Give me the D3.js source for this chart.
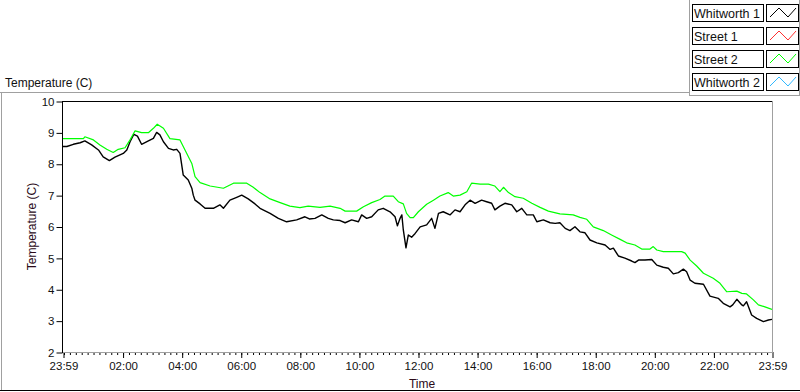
<!DOCTYPE html>
<html>
<head>
<meta charset="utf-8">
<script src="https://cdn.jsdelivr.net/npm/d3@7"></script>
<style>
  html, body { margin: 0; padding: 0; background: #fff; }
  text { font-family: "Liberation Sans", Arial, sans-serif; }
</style>
</head>
<body>
<div id="plot-area"></div>
<script>
// Temperature log over one day, four sensors (only two recorded)

// x values are hours elapsed since the 23:59 start, y values are degrees C
const whitworth1 = [
  [0.00, 8.55], [0.13, 8.55], [0.35, 8.62], [0.58, 8.67], [0.74, 8.73], [0.97, 8.60],
  [1.20, 8.44], [1.36, 8.22], [1.57, 8.10], [1.76, 8.21], [2.04, 8.33], [2.16, 8.44],
  [2.27, 8.70], [2.40, 8.94], [2.52, 8.88], [2.66, 8.62], [2.89, 8.73], [3.06, 8.81],
  [3.17, 9.00], [3.28, 8.92], [3.40, 8.70], [3.57, 8.49], [3.73, 8.44], [3.85, 8.46],
  [3.96, 8.33], [4.07, 7.64], [4.24, 7.48], [4.36, 7.22], [4.41, 7.00], [4.47, 6.84],
  [4.64, 6.72], [4.81, 6.58], [5.09, 6.58], [5.31, 6.69], [5.43, 6.58], [5.65, 6.84],
  [5.88, 6.93], [6.05, 7.00], [6.27, 6.88], [6.50, 6.72], [6.67, 6.58], [7.01, 6.42],
  [7.29, 6.26], [7.57, 6.15], [7.91, 6.21], [8.19, 6.31], [8.34, 6.24], [8.53, 6.26],
  [8.76, 6.37], [8.98, 6.26], [9.15, 6.21], [9.38, 6.19], [9.55, 6.12], [9.77, 6.21],
  [10.00, 6.15], [10.11, 6.37], [10.28, 6.26], [10.45, 6.31], [10.67, 6.53], [10.84, 6.58],
  [11.07, 6.47], [11.24, 6.31], [11.32, 6.02], [11.41, 6.26], [11.47, 6.37], [11.52, 5.89],
  [11.61, 5.32], [11.69, 5.73], [11.80, 5.66], [11.92, 5.78], [12.09, 5.99], [12.31, 6.05],
  [12.48, 6.26], [12.59, 5.94], [12.71, 6.42], [12.87, 6.47], [13.10, 6.37], [13.27, 6.53],
  [13.44, 6.47], [13.61, 6.69], [13.78, 6.84], [13.95, 6.74], [14.17, 6.84], [14.34, 6.79],
  [14.51, 6.74], [14.62, 6.53], [14.79, 6.65], [14.96, 6.74], [15.19, 6.69], [15.36, 6.47],
  [15.53, 6.58], [15.70, 6.37], [15.92, 6.37], [16.04, 6.15], [16.26, 6.21], [16.49, 6.12],
  [16.66, 6.10], [16.82, 6.12], [17.00, 5.94], [17.16, 5.87], [17.33, 5.99], [17.50, 5.83],
  [17.67, 5.80], [17.84, 5.57], [18.07, 5.48], [18.35, 5.41], [18.52, 5.27], [18.63, 5.31],
  [18.80, 5.06], [19.02, 4.99], [19.25, 4.90], [19.36, 4.85], [19.48, 4.93], [19.70, 4.93],
  [19.93, 4.95], [20.10, 4.77], [20.32, 4.70], [20.49, 4.67], [20.66, 4.49], [20.83, 4.53],
  [21.00, 4.64], [21.11, 4.56], [21.23, 4.29], [21.39, 4.19], [21.68, 4.16], [21.90, 3.78],
  [22.18, 3.71], [22.35, 3.55], [22.58, 3.44], [22.67, 3.50], [22.81, 3.68], [22.98, 3.50],
  [23.03, 3.47], [23.14, 3.60], [23.31, 3.18], [23.48, 3.07], [23.71, 2.97], [23.88, 3.02],
  [24.00, 3.04]
];

const street1 = [];

const street2 = [
  [0.00, 8.80], [0.69, 8.80], [0.74, 8.86], [1.03, 8.76], [1.25, 8.60], [1.48, 8.46],
  [1.70, 8.36], [1.87, 8.46], [2.10, 8.51], [2.27, 8.76], [2.44, 9.05], [2.66, 8.99],
  [2.89, 8.99], [3.06, 9.13], [3.19, 9.26], [3.40, 9.13], [3.62, 8.80], [3.96, 8.76],
  [4.13, 8.44], [4.36, 8.01], [4.47, 7.59], [4.64, 7.40], [4.98, 7.29], [5.43, 7.22],
  [5.77, 7.38], [6.22, 7.38], [6.44, 7.25], [6.67, 7.08], [7.01, 6.88], [7.35, 6.76],
  [7.68, 6.65], [8.02, 6.60], [8.30, 6.65], [8.70, 6.61], [9.04, 6.65], [9.38, 6.58],
  [9.55, 6.49], [9.94, 6.49], [10.17, 6.63], [10.45, 6.76], [10.73, 6.86], [10.90, 6.97],
  [11.18, 6.97], [11.35, 6.79], [11.52, 6.72], [11.63, 6.42], [11.75, 6.28], [11.86, 6.28],
  [12.03, 6.47], [12.31, 6.71], [12.54, 6.84], [12.76, 6.97], [13.04, 7.08], [13.21, 6.97],
  [13.44, 7.00], [13.67, 7.11], [13.83, 7.38], [14.12, 7.35], [14.40, 7.35], [14.62, 7.29],
  [14.79, 7.11], [14.91, 7.25], [15.08, 7.08], [15.30, 6.95], [15.58, 6.90], [15.87, 6.74],
  [16.15, 6.61], [16.43, 6.49], [16.82, 6.40], [17.27, 6.37], [17.50, 6.29], [17.73, 6.23],
  [17.95, 5.99], [18.29, 5.87], [18.57, 5.73], [18.86, 5.59], [19.08, 5.48], [19.36, 5.41],
  [19.59, 5.28], [19.87, 5.28], [19.98, 5.36], [20.10, 5.25], [20.32, 5.20], [20.94, 5.20],
  [21.06, 5.15], [21.23, 4.93], [21.45, 4.74], [21.68, 4.51], [22.01, 4.35], [22.24, 4.19],
  [22.47, 3.92], [22.81, 3.94], [22.98, 3.87], [23.14, 3.85], [23.37, 3.66], [23.54, 3.50],
  [23.76, 3.44], [24.00, 3.36]
];

const whitworth2 = [];

const seriesNames = ["Whitworth 1", "Street 1", "Street 2", "Whitworth 2"];
const seriesColors = ["#000000", "#ff3030", "#00ff00", "#30b8ff"];
const seriesData = [whitworth1, street1, street2, whitworth2];

const xTickLabels = ["23:59", "02:00", "04:00", "06:00", "08:00", "10:00", "12:00",
  "14:00", "16:00", "18:00", "20:00", "22:00", "23:59"];
const yTickValues = [2, 3, 4, 5, 6, 7, 8, 9, 10];

// Set up svg
const svg = d3.select("#plot-area").
append("svg").
attr("width", 800).
attr("height", 392);

const pL = 63, pR = 772, pT = 101, pB = 352; // plot box edges

// Scales
const start = new Date(2000, 0, 1, 23, 59);
const end = d3.timeHour.offset(start, 24);
const toDate = h => new Date(+start + h * 3600000);

const xScale = d3.scaleTime().domain([start, end]).range([pL, pR]);
const yScale = d3.scaleLinear().domain([2, 10]).range([pB, pT]);

// tick label -> date (first label is the start, the rest are the next day)
const majorDates = xTickLabels.map((s, i) => {
  if (i === 0) return start;
  if (i === xTickLabels.length - 1) return end;
  const [hh, mm] = s.split(":").map(Number);
  return new Date(2000, 0, 2, hh, mm);
});
const minorDates = d3.timeMinute.every(12).range(d3.timeMinute.offset(start, 1), end);

// Outer panel frame
const gray = "#a0a0a0";
svg.append("line").attr("x1", 0).attr("x2", 689).attr("y1", 92.5).attr("y2", 92.5).attr("stroke", gray);
svg.append("line").attr("x1", 1.5).attr("x2", 1.5).attr("y1", 92).attr("y2", 391).attr("stroke", gray);
svg.append("line").attr("x1", 0).attr("x2", 800).attr("y1", 390.5).attr("y2", 390.5).attr("stroke", "#000");

// Legend frame
svg.append("line").attr("x1", 689.5).attr("x2", 689.5).attr("y1", 0).attr("y2", 95).attr("stroke", gray);
svg.append("line").attr("x1", 689).attr("x2", 800).attr("y1", 95.5).attr("y2", 95.5).attr("stroke", gray);
svg.append("line").attr("x1", 799.5).attr("x2", 799.5).attr("y1", 0).attr("y2", 95).attr("stroke", gray);

// Title
svg.append("text").
attr("x", 5).
attr("y", 87).
attr("font-size", 12).
attr("fill", "#111").
text("Temperature (C)");

// Plot box
svg.append("rect").
attr("x", pL).attr("y", pT).
attr("width", pR - pL).attr("height", pB - pT).
attr("fill", "#fff");

// Axes
const xMajor = d3.axisBottom(xScale).
tickValues(majorDates).
tickFormat(d3.timeFormat("%H:%M")).
tickSize(6).
tickPadding(4);

const xMinor = d3.axisBottom(xScale).
tickValues(minorDates).
tickFormat("").
tickSize(3);

const yAxis = d3.axisLeft(yScale).
tickValues(yTickValues).
tickSize(6).
tickPadding(2);

const gxMinor = svg.append("g").attr("transform", `translate(0.5 ${pB})`).call(xMinor);
const gx = svg.append("g").attr("id", "x-axis").attr("transform", `translate(0.5 ${pB})`).call(xMajor);
const gy = svg.append("g").attr("id", "y-axis").attr("transform", `translate(${pL - 0.5} 0.5)`).call(yAxis);

[gx, gxMinor, gy].forEach(g => {
  g.select(".domain").remove();
  g.selectAll("line").attr("stroke", "#000");
  g.selectAll("text").
  attr("font-family", "Liberation Sans, Arial, sans-serif").
  attr("font-size", 11.5).
  attr("fill", "#111");
});

svg.append("text").
attr("x", 422).
attr("y", 388).
attr("text-anchor", "middle").
attr("font-size", 12).
attr("fill", "#2a0a18").
text("Time");

svg.append("text").
attr("transform", `translate(36 ${(pT + pB) / 2}) rotate(-90)`).
attr("text-anchor", "middle").
attr("font-size", 12).
attr("fill", "#2a0a18").
text("Temperature (C)");

// Series lines
svg.append("clipPath").attr("id", "clip").
append("rect").attr("x", pL).attr("y", pT).attr("width", pR - pL).attr("height", pB - pT);

const line = d3.line().
x(d => xScale(toDate(d[0]))).
y(d => yScale(d[1]));

svg.append("g").
attr("clip-path", "url(#clip)").
selectAll("path").
data(seriesData).
enter().
append("path").
attr("d", d => d.length ? line(d) : null).
attr("fill", "none").
attr("stroke", (d, i) => seriesColors[i]).
attr("stroke-width", (d, i) => i === 0 ? 1.4 : 1.2).
attr("stroke-linejoin", "round");

// Plot box borders: black top/left, gray right/bottom
svg.append("line").attr("x1", pL).attr("x2", pR).attr("y1", pT + 0.5).attr("y2", pT + 0.5).attr("stroke", "#000");
svg.append("line").attr("x1", pL - 0.5).attr("x2", pL - 0.5).attr("y1", pT).attr("y2", pB + 1).attr("stroke", "#000");
svg.append("line").attr("x1", pR + 0.5).attr("x2", pR + 0.5).attr("y1", pT).attr("y2", pB + 1).attr("stroke", gray);
svg.append("line").attr("x1", pL).attr("x2", pR + 1).attr("y1", pB + 0.5).attr("y2", pB + 0.5).attr("stroke", gray);

// Legend
const swatch = [[3, 13], [12, 4], [21, 13], [29, 4]];
const legend = svg.append("g").attr("id", "legend");

const rows = legend.selectAll("g").
data(seriesNames).
enter().
append("g").
attr("transform", (d, i) => `translate(0 ${4 + 23 * i})`);

rows.append("rect").
attr("x", 692.5).attr("y", 0.5).
attr("width", 71).attr("height", 17).
attr("fill", "#fff").attr("stroke", "#000");

rows.append("text").
attr("x", 694).
attr("y", 13.5).
attr("font-size", 12.5).
attr("fill", "#111").
text(d => d);

rows.append("rect").
attr("x", 766.5).attr("y", 0.5).
attr("width", 32).attr("height", 17).
attr("fill", "#fff").attr("stroke", "#000");

rows.append("polyline").
attr("points", swatch.map(p => [767 + p[0], p[1]].join(",")).join(" ")).
attr("fill", "none").
attr("stroke", (d, i) => seriesColors[i]).
attr("stroke-width", 1);
</script>
</body>
</html>
